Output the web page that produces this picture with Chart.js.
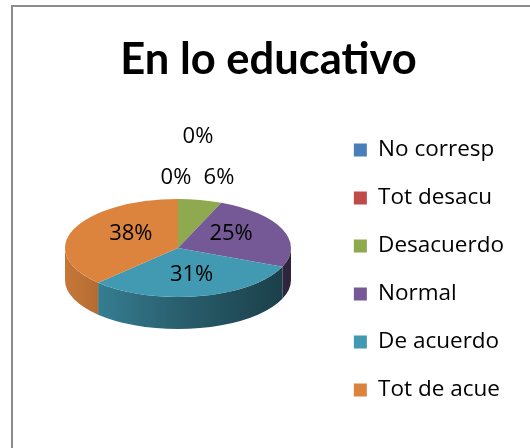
<!DOCTYPE html>
<html><head><meta charset="utf-8">
<script src="https://cdn.jsdelivr.net/npm/chart.js@4/dist/chart.umd.min.js"></script>
<style>html,body{margin:0;padding:0;background:#fff;overflow:hidden}</style>
</head><body>
<canvas id="c" width="530" height="448"></canvas>
<script>
// ---- data ----
const categories = ['No corresp', 'Tot desacu', 'Desacuerdo', 'Normal', 'De acuerdo', 'Tot de acue'];
const counts = [0, 0, 1, 4, 5, 6];
const sliceColors = ['#4A7EBB', '#BE4B48', '#8EA94E', '#745996', '#4299B2', '#DC843E'];
const chartTitle = 'En lo educativo';

// ---- layout of the 3D projection ----
const TITLE_FONT = 'Lato, "DejaVu Sans", sans-serif';
const FONT = '"Open Sans", "DejaVu Sans", sans-serif';
const PIE = { cx: 178, cy: 248, rx: 113, ry: 49, depth: 32 };

function shade(hex, f) {
  const n = parseInt(hex.slice(1), 16);
  const r = Math.round(((n >> 16) & 255) * f), g = Math.round(((n >> 8) & 255) * f), b = Math.round((n & 255) * f);
  return 'rgb(' + r + ',' + g + ',' + b + ')';
}

const pie3d = {
  id: 'pie3d',
  beforeDraw(chart) {
    const ctx = chart.ctx;
    ctx.save();
    ctx.fillStyle = '#fff';
    ctx.fillRect(0, 0, chart.width, chart.height);
    ctx.strokeStyle = '#8C8C8C';
    ctx.lineWidth = 2;
    ctx.strokeRect(12, 6, 700, 700);
    ctx.restore();
  },
  beforeDatasetsDraw(chart) {
    const ctx = chart.ctx;
    const meta = chart.getDatasetMeta(0);
    // side walls (front half only), derived from the library's arc elements
    meta.data.forEach((el, i) => {
      const a1 = Math.max(el.startAngle, 0), a2 = Math.min(el.endAngle, Math.PI);
      if (a2 <= a1) return;
      const g = ctx.createLinearGradient(PIE.cx - PIE.rx, 0, PIE.cx + PIE.rx, 0);
      const base = sliceColors[i];
      g.addColorStop(0, shade(base, 0.9));
      g.addColorStop(0.5, shade(base, 0.62));
      g.addColorStop(1, shade(base, 0.4));
      ctx.beginPath();
      ctx.ellipse(PIE.cx, PIE.cy, PIE.rx, PIE.ry, 0, a1, a2);
      ctx.ellipse(PIE.cx, PIE.cy + PIE.depth, PIE.rx, PIE.ry, 0, a2, a1, true);
      ctx.closePath();
      ctx.fillStyle = g;
      ctx.fill();
    });
    const el0 = meta.data[0];
    ctx.save();
    ctx.translate(PIE.cx, PIE.cy);
    ctx.scale(PIE.rx / el0.outerRadius, PIE.ry / el0.outerRadius);
    ctx.translate(-el0.x, -el0.y);
  },
  afterDatasetsDraw(chart) {
    const ctx = chart.ctx;
    ctx.restore();
    const meta = chart.getDatasetMeta(0);
    const total = counts.reduce((a, b) => a + b, 0);
    // outside labels for thin slices, stacked above the pie (relative to the pie centre)
    const outside = [[20, -111], [-2, -70], [41, -70]];
    let k = 0;
    ctx.save();
    ctx.font = '22px ' + FONT;
    ctx.fillStyle = '#000';
    ctx.textAlign = 'center';
    ctx.textBaseline = 'middle';
    meta.data.forEach((el, i) => {
      const share = counts[i] / total;
      const txt = Math.round(share * 100) + '%';
      const mid = (el.startAngle + el.endAngle) / 2;
      let x, y;
      if (share >= 0.1) {
        x = PIE.cx + 0.48 * PIE.rx * Math.cos(mid) + 3;
        y = PIE.cy + 0.62 * PIE.ry * Math.sin(mid) - 3;
      } else {
        const o = outside[k++ % outside.length];
        x = PIE.cx + o[0];
        y = PIE.cy + o[1];
      }
      ctx.fillText(txt, x, y);
    });
    ctx.restore();
  }
};

new Chart(document.getElementById('c'), {
  type: 'pie',
  data: {
    labels: categories,
    datasets: [{
      data: counts,
      backgroundColor: sliceColors,
      borderWidth: 0,
      clip: false
    }]
  },
  options: {
    responsive: false,
    animation: false,
    devicePixelRatio: 1,
    layout: { padding: { left: 23, right: 16, top: 0, bottom: 0 } },
    plugins: {
      tooltip: { enabled: false },
      title: {
        display: true,
        text: chartTitle,
        color: '#000',
        font: { family: TITLE_FONT, size: 43.5, weight: 'bold', lineHeight: 1.2 },
        padding: { top: 33.4, bottom: 6.4 }
      },
      legend: {
        position: 'right',
        fullSize: false,
        labels: {
          color: '#000',
          font: { family: FONT, size: 22.5 },
          boxWidth: 13,
          boxHeight: 13,
          padding: 25.5
        }
      }
    }
  },
  plugins: [pie3d]
});
</script>
</body></html>
